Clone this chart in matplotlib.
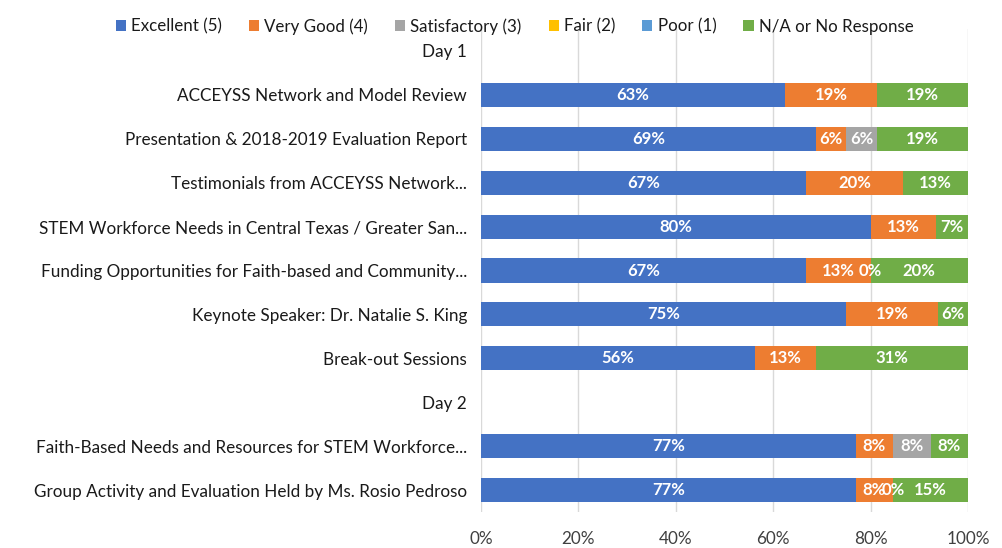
import matplotlib
matplotlib.use("Agg")
import matplotlib.pyplot as plt
import numpy as np

categories = [
    "Day 1",
    "ACCEYSS Network and Model Review",
    "Presentation & 2018-2019 Evaluation Report",
    "Testimonials from ACCEYSS Network...",
    "STEM Workforce Needs in Central Texas / Greater San...",
    "Funding Opportunities for Faith-based and Community...",
    "Keynote Speaker: Dr. Natalie S. King",
    "Break-out Sessions",
    "Day 2",
    "Faith-Based Needs and Resources for STEM Workforce...",
    "Group Activity and Evaluation Held by Ms. Rosio Pedroso",
]
series_names = ["Excellent (5)", "Very Good (4)", "Satisfactory (3)", "Fair (2)", "Poor (1)", "N/A or No Response"]
colors = ["#4472C4", "#ED7D31", "#A5A5A5", "#FFC000", "#5B9BD5", "#70AD47"]

excellent    = [None, 62.5, 68.75, 66.67, 80.0, 66.67, 75.0, 56.25, None, 76.92, 76.92]
very_good    = [None, 18.75, 6.25, 20.0, 13.33, 13.33, 18.75, 12.5, None, 7.69, 7.69]
satisfactory = [None, None, 6.25, None, None, 0.0, None, None, None, 7.69, 0.0]
fair         = [None, None, None, None, None, None, None, None, None, None, None]
poor         = [None, None, None, None, None, None, None, None, None, None, None]
na_response  = [None, 18.75, 18.75, 13.33, 6.67, 20.0, 6.25, 31.25, None, 7.69, 15.38]

series = [excellent, very_good, satisfactory, fair, poor, na_response]

plt.rcParams['font.family'] = ['Lato', 'DejaVu Sans']
fig = plt.figure(figsize=(10.03, 5.48), dpi=100)
ax = fig.add_axes([481/1003, (548-512)/548, (968-481)/1003, (512-29)/548])

y = np.arange(len(categories))
left = np.zeros(len(categories))
handles = []
for name, vals, col in zip(series_names, series, colors):
    v = np.array([0.0 if x is None else x for x in vals])
    h = ax.barh(y, v, left=left, height=0.55, color=col, label=name)
    handles.append(h)
    for i, x in enumerate(vals):
        if x is None:
            continue
        ax.text(left[i] + v[i] / 2, y[i], f"{int(x + 0.5)}%", ha="center", va="center",
                color="white", fontsize=12, fontweight="bold")
    left += v

ax.set_xlim(0, 100)
ax.set_ylim(10.5, -0.5)
ax.set_xticks([0, 20, 40, 60, 80, 100])
ax.set_xticklabels(["0%", "20%", "40%", "60%", "80%", "100%"], fontsize=12.3, color="#404040")
ax.set_yticks(y)
ax.set_yticklabels(categories, fontsize=12.3, color="#1a1a1a")
ax.tick_params(axis="both", length=0)
ax.tick_params(axis="y", pad=10)
ax.tick_params(axis="x", pad=14)
ax.grid(axis="x", color="#D9D9D9", linewidth=1)
ax.set_axisbelow(True)
for s in ax.spines.values():
    s.set_visible(False)

fig.legend(handles=handles, labels=series_names, loc="upper center", bbox_to_anchor=(0.513, 0.995),
           ncol=6, frameon=False, fontsize=12.2, handlelength=0.6, handleheight=0.6,
           handletextpad=0.3, columnspacing=1.6, labelcolor="#1a1a1a")

fig.savefig("out.png", dpi=100)
